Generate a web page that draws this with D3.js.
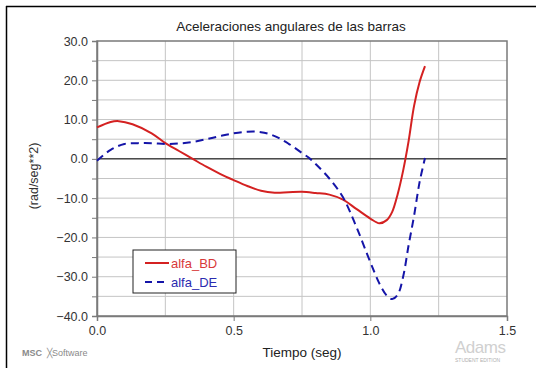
<!DOCTYPE html>
<html><head><meta charset="utf-8">
<script src="https://cdn.jsdelivr.net/npm/d3@7"></script>
<style>body{margin:0;background:#fff;} svg{display:block;font-family:Arial,"Liberation Sans",sans-serif;}</style>
</head><body>
<svg id="c" width="540" height="368"></svg>
<script>
const title = "Aceleraciones angulares de las barras";
const xLabel = "Tiempo (seg)";
const yLabel = "(rad/seg**2)";
const xTicks = [0, 0.5, 1.0, 1.5];
const yTicks = [-40, -30, -20, -10, 0, 10, 20, 30];
const seriesNames = ["alfa_BD", "alfa_DE"];
const tBD = [0,0.05,0.08,0.13,0.2,0.25,0.3,0.35,0.4,0.45,0.5,0.55,0.6,0.65,0.7,0.75,0.8,0.85,0.9,0.95,1.0,1.033,1.06,1.08,1.1,1.12,1.14,1.16,1.18,1.2];
const vBD = [8.0,9.4,9.6,8.8,6.5,4.0,2.0,0.0,-2.0,-3.8,-5.4,-6.9,-8.1,-8.6,-8.5,-8.4,-8.7,-9.1,-10.4,-12.8,-15.2,-16.4,-15.6,-13.5,-9.0,-3.0,4.5,13.5,19.5,23.6];
const tDE = [0,0.05,0.1,0.15,0.2,0.25,0.3,0.35,0.4,0.45,0.5,0.55,0.6,0.65,0.7,0.75,0.78,0.8,0.85,0.9,0.95,1.0,1.035,1.06,1.08,1.1,1.12,1.14,1.16,1.18,1.2];
const vDE = [-0.5,2.3,3.8,4.0,4.0,3.8,3.9,4.3,5.0,5.8,6.5,6.9,6.8,5.8,3.9,1.5,0,-1.3,-5.0,-9.8,-17.5,-26.3,-32,-34.8,-35.7,-34.6,-30,-22,-14.5,-6.0,0.2];

const svg = d3.select("#c");
const L = 97, R = 507, T = 41, B = 316;
const x = d3.scaleLinear().domain([0, 1.5]).range([L, R]);
const y = d3.scaleLinear().domain([-40, 30]).range([B, T]);

// outer frame (top and left)
svg.append("line").attr("x1",6).attr("x2",536).attr("y1",6.5).attr("y2",6.5).attr("stroke","#000").attr("stroke-width",1.5);
svg.append("line").attr("x1",6.5).attr("x2",6.5).attr("y1",6).attr("y2",368).attr("stroke","#000").attr("stroke-width",1.5);

// grid
const gx = d3.range(0.25, 1.5, 0.25);
const gy = d3.range(-35, 30, 5);
svg.append("g").selectAll("line").data(gx).join("line")
  .attr("x1", d=>x(d)).attr("x2", d=>x(d)).attr("y1", T).attr("y2", B)
  .attr("stroke", "#c4c4c4").attr("stroke-width", 1);
svg.append("g").selectAll("line").data(gy).join("line")
  .attr("x1", L).attr("x2", R).attr("y1", d=>y(d)).attr("y2", d=>y(d))
  .attr("stroke", "#c4c4c4").attr("stroke-width", 1);

// zero line
svg.append("line").attr("x1", L).attr("x2", R).attr("y1", y(0)).attr("y2", y(0)).attr("stroke", "#000").attr("stroke-width", 1);

// plot frame
svg.append("rect").attr("x", L).attr("y", T).attr("width", R-L).attr("height", B-T)
  .attr("fill", "none").attr("stroke", "#7a7a7a").attr("stroke-width", 1.5);

// axes
const yAxis = d3.axisLeft(y).tickValues(d3.range(-40, 31, 5)).tickSize(5).tickFormat(d => d % 10 === 0 ? d3.format(".1f")(d) : "");
const gY = svg.append("g").attr("transform", `translate(${L},0)`).call(yAxis);
gY.select(".domain").attr("stroke", "#7a7a7a").attr("stroke-width", 1.5);
gY.selectAll(".tick line").attr("stroke", "#7a7a7a");
gY.selectAll("text").attr("font-size", 12.5).attr("fill", "#333").attr("font-family", "Arial, 'Liberation Sans', sans-serif").attr("dx", "-1");

const xAxis = d3.axisBottom(x).tickValues(xTicks).tickSize(5).tickFormat(d3.format(".1f"));
const gX = svg.append("g").attr("transform", `translate(0,${B})`).call(xAxis);
gX.select(".domain").attr("stroke", "#7a7a7a").attr("stroke-width", 1.5);
gX.selectAll(".tick line").attr("stroke", "#7a7a7a");
gX.selectAll("text").attr("font-size", 12.5).attr("fill", "#333").attr("font-family", "Arial, 'Liberation Sans', sans-serif").attr("dy", "0.9em");

// lines
const line = d3.line().x(d=>x(d[0])).y(d=>y(d[1])).curve(d3.curveCatmullRom.alpha(0.5));
const bd = tBD.map((t,i)=>[t, vBD[i]]);
const de = tDE.map((t,i)=>[t, vDE[i]]);
svg.append("path").datum(bd).attr("d", line).attr("fill","none").attr("stroke","#d42121").attr("stroke-width",2);
svg.append("path").datum(de).attr("d", line).attr("fill","none").attr("stroke","#1515a8").attr("stroke-width",2).attr("stroke-dasharray","8,5");

// title & labels
svg.append("text").attr("x", 291).attr("y", 31).attr("text-anchor","middle").attr("font-size", 13.5).attr("fill","#222").text(title);
svg.append("text").attr("x", 302).attr("y", 357).attr("text-anchor","middle").attr("font-size", 13.5).attr("fill","#222").text(xLabel);
svg.append("text").attr("transform", "translate(38,176) rotate(-90)").attr("text-anchor","middle").attr("font-size", 12.5).attr("fill","#333").text(yLabel);

// legend
const lg = svg.append("g");
lg.append("rect").attr("x", 133).attr("y", 250).attr("width", 103).attr("height", 43).attr("fill","#fff").attr("stroke","#222").attr("stroke-width",1);
const colorsL = ["#d42121", "#1515a8"];
const textColors = ["#d83a3a", "#2b2bb0"];
seriesNames.forEach((n,i)=>{
  const yy = 263 + i*19;
  lg.append("line").attr("x1",145).attr("x2",169).attr("y1",yy).attr("y2",yy).attr("stroke",colorsL[i]).attr("stroke-width",2)
    .attr("stroke-dasharray", i===1 ? "7,5" : null);
  lg.append("text").attr("x",171).attr("y",yy+5).attr("font-size",13).attr("fill",textColors[i]).text(n);
});

// logos
svg.append("text").attr("x", 22).attr("y", 356).attr("font-size", 9).attr("font-weight","bold").attr("fill","#8a8a8a").text("MSC");
svg.append("text").attr("x", 47).attr("y", 356).attr("font-size", 9).attr("fill","#8a8a8a").text("╳Software");
svg.append("text").attr("x", 455).attr("y", 353).attr("font-size", 17).attr("fill","#d0d0d0").attr("letter-spacing","-0.5").text("Adams");
svg.append("text").attr("x", 455).attr("y", 362).attr("font-size", 5).attr("fill","#b0b0b0").text("STUDENT EDITION");
</script>
</body></html>
